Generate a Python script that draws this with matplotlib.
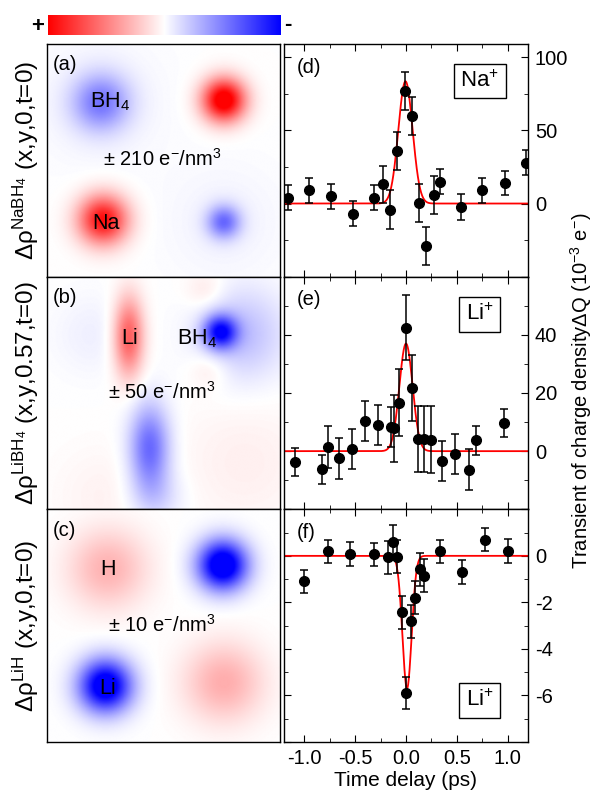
import numpy as np
import matplotlib
matplotlib.use("Agg")
from matplotlib import pyplot as plt
from matplotlib.ticker import MultipleLocator, FuncFormatter, FormatStrFormatter

plt.rcParams['font.family'] = ['Liberation Sans', 'DejaVu Sans']
plt.rcParams['mathtext.fontset'] = 'custom'
plt.rcParams['mathtext.rm'] = 'Liberation Sans'
plt.rcParams['mathtext.it'] = 'Liberation Sans:italic'
plt.rcParams['mathtext.bf'] = 'Liberation Sans:bold'
plt.rcParams['axes.unicode_minus'] = False

# --- transients of charge density (time delay in ps, dQ in 10^-3 e) ---
d_t = [-1.16, -0.95, -0.74, -0.52, -0.31, -0.23, -0.16, -0.09, -0.01, 0.06,
       0.13, 0.20, 0.28, 0.33, 0.54, 0.75, 0.97, 1.18]
d_q = [3.9, 8.9, 4.8, -7.0, 4.1, 13.0, -4.1, 36.0, 77.0, 60.0,
       0.5, -29.0, 6.0, 15.0, -2.5, 8.9, 14.0, 28.0]
d_err = [8.6, 8.5, 8.6, 8.5, 8.6, 12.7, 13.0, 12.8, 13.0, 13.0,
         13.0, 12.7, 13.0, 8.5, 8.7, 8.6, 8.5, 8.5]

e_t = [-1.09, -0.83, -0.77, -0.66, -0.53, -0.40, -0.28, -0.15, -0.12, -0.07,
       0.0, 0.06, 0.12, 0.18, 0.25, 0.35, 0.48, 0.62, 0.69, 0.96]
e_q = [-3.7, -6.3, 1.4, -2.5, 0.7, 10.5, 9.0, 8.3, 7.8, 16.6,
       42.5, 21.8, 4.2, 4.2, 4.0, -3.3, -0.9, -6.4, 3.7, 9.6]
e_err = [4.9, 4.9, 7.1, 7.0, 7.0, 6.9, 7.0, 7.0, 11.5, 11.5,
         11.3, 11.3, 11.4, 11.4, 11.4, 6.9, 6.9, 7.0, 4.9, 4.9]

f_t = [-1.0, -0.77, -0.55, -0.31, -0.18, -0.13, -0.086, -0.043, 0.0, 0.05,
       0.09, 0.14, 0.18, 0.33, 0.55, 0.78, 1.0]
f_q = [-1.1, 0.19, 0.09, 0.06, -0.06, 0.6, -0.03, -2.43, -5.9, -2.81,
       -1.8, -0.57, -0.86, 0.19, -0.7, 0.69, 0.21]
f_err = [0.51, 0.51, 0.51, 0.5, 0.71, 0.71, 0.71, 0.71, 0.7, 0.71,
         0.71, 0.71, 0.71, 0.51, 0.51, 0.5, 0.5]

# gaussian fits: amplitude, centre (ps), sigma (ps)
d_fit = (83.5, -0.005, 0.07)
e_fit = (37.0, 0.0, 0.065)
f_fit = (-5.7, 0.01, 0.045)

# labelled y ticks on the right-hand axes
d_yticks = [0, 50, 100]
e_yticks = [0, 20, 40]
f_yticks = [-6, -4, -2, 0]

# --- difference density maps, built from gaussian lobes ---
# columns: x, y (fraction of panel, y downwards), amplitude, sigma_x, sigma_y
a_lobes = [
    (0.23, 0.25, -0.50, 0.085, 0.085),
    (0.23, 0.25, -0.05, 0.20, 0.20),
    (0.76, 0.24, 1.15, 0.065, 0.065),
    (0.24, 0.755, 0.95, 0.075, 0.075),
    (0.76, 0.765, -0.55, 0.05, 0.05),
    (0.76, 0.765, -0.05, 0.18, 0.18),
]
b_lobes = [
    (0.35, 0.26, 0.65, 0.045, 0.12),
    (0.745, 0.24, -0.90, 0.05, 0.05),
    (0.84, 0.25, -0.25, 0.13, 0.14),
    (0.44, 0.74, -0.60, 0.06, 0.13),
    (0.47, 0.95, -0.15, 0.08, 0.08),
    (0.68, 0.06, 0.10, 0.06, 0.06),
    (0.70, 0.40, 0.10, 0.06, 0.06),
    (0.85, 0.80, 0.06, 0.20, 0.20),
    (0.25, 0.95, 0.05, 0.15, 0.15),
    (0.20, 0.25, -0.06, 0.12, 0.12),
]
c_lobes = [
    (0.26, 0.255, 0.30, 0.12, 0.12),
    (0.755, 0.24, -1.25, 0.075, 0.075),
    (0.25, 0.76, -1.20, 0.08, 0.08),
    (0.76, 0.745, 0.32, 0.12, 0.12),
]

map_ylabels = [r'Δρ$^{\mathrm{NaBH_4}}$ (x,y,0,t=0)',
               r'Δρ$^{\mathrm{LiBH_4}}$ (x,y,0.57,t=0)',
               r'Δρ$^{\mathrm{LiH}}$ (x,y,0,t=0)']
map_scales = [r'± 210 e$^{-}$/nm$^3$', r'± 50 e$^{-}$/nm$^3$', r'± 10 e$^{-}$/nm$^3$']
map_atoms = [[('BH$_4$', 0.27, 0.25), ('Na', 0.255, 0.77)],
             [('Li', 0.355, 0.265), ('BH$_4$', 0.645, 0.265)],
             [('H', 0.26, 0.26), ('Li', 0.26, 0.77)]]
ion_labels = ['Na$^{+}$', 'Li$^{+}$', 'Li$^{+}$']

FS = 14.5
W, H = 593, 790
fig = plt.figure(figsize=(W / 100, H / 100), dpi=100)

rows = [44, 276.7, 509.3, 742]


def box(x0, x1, y0, y1):
    return [x0 / W, 1 - y1 / H, (x1 - x0) / W, (y1 - y0) / H]


def density(lobes, n=300):
    g = np.linspace(0, 1, n)
    X, Y = np.meshgrid(g, g)
    Z = np.zeros_like(X)
    for x, y, amp, sx, sy in lobes:
        Z += amp * np.exp(-((X - x) ** 2 / (2 * sx ** 2) + (Y - y) ** 2 / (2 * sy ** 2)))
    return Z


# colour scale bar (+ red ... - blue)
cax = fig.add_axes(box(48, 281, 15, 35))
cax.imshow(np.linspace(1, -1, 256)[np.newaxis, :], cmap='bwr', vmin=-1, vmax=1, aspect='auto')
cax.axis('off')
fig.text(38 / W, 1 - 26 / H, '+', fontsize=FS + 1.5, fontweight='bold', ha='center', va='center')
fig.text(288 / W, 1 - 25 / H, '-', fontsize=FS + 1.5, fontweight='bold', ha='center', va='center')

# left column: density maps
for i, lobes in enumerate([a_lobes, b_lobes, c_lobes]):
    ax = fig.add_axes(box(47, 280, rows[i], rows[i + 1]))
    ax.imshow(density(lobes), cmap='bwr', vmin=-1, vmax=1, extent=(0, 1, 1, 0),
              aspect='auto', interpolation='bilinear')
    ax.set_xticks([])
    ax.set_yticks([])
    for s in ax.spines.values():
        s.set_linewidth(1.0)
    ax.text(0.026, 0.91, '(' + 'abc'[i] + ')', transform=ax.transAxes, fontsize=FS,
            ha='left', va='center')
    ax.text(0.495, 0.505, map_scales[i], transform=ax.transAxes, fontsize=FS,
            ha='center', va='center')
    for label, x, y in map_atoms[i]:
        ax.text(x, 1 - y, label, transform=ax.transAxes, fontsize=FS + 1,
                ha='center', va='center')
    fig.text(26 / W, 1 - (rows[i] + rows[i + 1]) / 2 / H, map_ylabels[i], fontsize=17.5,
             rotation=90, ha='center', va='center')

# right column: charge transients
series = [(d_t, d_q, d_err, d_fit, (-50, 109), 25, d_yticks),
          (e_t, e_q, e_err, e_fit, (-20, 60), 10, e_yticks),
          (f_t, f_q, f_err, f_fit, (-8, 2), 1, f_yticks)]
tt = np.linspace(-1.2, 1.2, 1200)
ion_y = [0.841, 0.838, 0.178]
for i, (t, q, err, fit, ylim, minor, labelled) in enumerate(series):
    ax = fig.add_axes(box(284, 528, rows[i], rows[i + 1]))
    amp, t0, sig = fit
    ax.plot(tt, amp * np.exp(-(tt - t0) ** 2 / (2 * sig ** 2)), color='red', lw=1.3, zorder=2)
    ax.errorbar(t, q, yerr=err, fmt='o', color='black', ms=7, elinewidth=1.1,
                capsize=3, capthick=1.1, zorder=3)
    ax.set_xlim(-1.2, 1.2)
    ax.set_ylim(*ylim)
    ax.xaxis.set_major_locator(MultipleLocator(0.5))
    ax.xaxis.set_minor_locator(MultipleLocator(0.25))
    ax.yaxis.set_major_locator(MultipleLocator(2 * minor))
    ax.yaxis.set_minor_locator(MultipleLocator(minor))
    ax.yaxis.set_major_formatter(FuncFormatter(
        lambda v, pos, keep=labelled: '%g' % v if any(abs(v - k) < 1e-6 for k in keep) else ''))
    ax.xaxis.set_major_formatter(FormatStrFormatter('%.1f'))
    ax.tick_params(which='both', direction='in', top=True, bottom=True, left=True, right=True,
                   labelleft=False, labelright=True, labelbottom=(i == 2), labelsize=FS, pad=5)
    ax.tick_params(which='major', length=5)
    ax.tick_params(which='minor', length=3)
    for s in ax.spines.values():
        s.set_linewidth(1.0)
    ax.text(0.053, 0.9, '(' + 'def'[i] + ')', transform=ax.transAxes, fontsize=FS,
            ha='left', va='center')
    ax.text(0.803, ion_y[i], ion_labels[i], transform=ax.transAxes, fontsize=FS + 1.5,
            ha='center', va='center',
            bbox=dict(boxstyle='square,pad=0.3', fc='white', ec='black', lw=1.0))

fig.text(406 / W, 1 - 780 / H, 'Time delay (ps)', fontsize=FS + 0.5, ha='center', va='center')
fig.text(581 / W, 1 - 391 / H, r'Transient of charge density$\Delta$Q (10$^{-3}$ e$^{-}$)',
         fontsize=FS, rotation=90, ha='center', va='center')

fig.savefig('out.png', dpi=100)
